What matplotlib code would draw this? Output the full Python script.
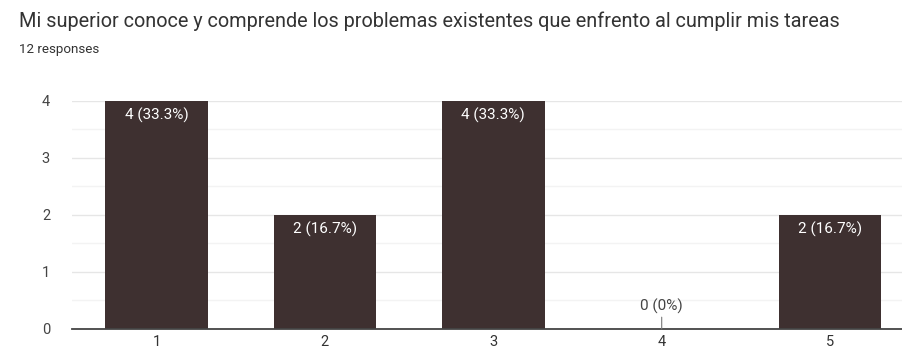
import matplotlib
matplotlib.use("Agg")
import matplotlib.pyplot as plt

categories = ["1", "2", "3", "4", "5"]
counts = [4, 2, 4, 0, 2]
total = 12
title = "Mi superior conoce y comprende los problemas existentes que enfrento al cumplir mis tareas"
subtitle = "12 responses"

plt.rcParams['font.family'] = ['Roboto', 'DejaVu Sans']

W, H = 903, 351
fig = plt.figure(figsize=(W / 100, H / 100), dpi=100)
fig.patch.set_facecolor("white")

left_px, right_px, top_px, bottom_px = 72.3, 914.3, 100.5, 329
ax = fig.add_axes([left_px / W, (H - bottom_px) / H,
                   (right_px - left_px) / W, (bottom_px - top_px) / H])

x = list(range(len(categories)))
bar_color = "#3e3030"
ax.bar(x, counts, width=0.61, color=bar_color, zorder=3)
ax.set_xlim(-0.5, len(categories) - 0.5)
ax.set_ylim(0, 4)

ax.set_yticks([0, 1, 2, 3, 4])
ax.set_yticks([0.5, 1.5, 2.5, 3.5], minor=True)
ax.grid(axis='y', which='major', color="#e6e6e6", linewidth=1, zorder=0)
ax.grid(axis='y', which='minor', color="#f3f3f3", linewidth=1, zorder=0)
ax.tick_params(axis='y', which='both', length=0, labelsize=10.5, labelcolor="#444444", pad=16)
ax.set_xticks(x)
ax.set_xticklabels(categories)
ax.tick_params(axis='x', length=0, labelsize=10.5, labelcolor="#333333", pad=4)

for s in ["top", "right", "left"]:
    ax.spines[s].set_visible(False)
ax.spines["bottom"].set_color("#444444")
ax.spines["bottom"].set_linewidth(1.3)
ax.spines["bottom"].set_zorder(4)

for xi, c in zip(x, counts):
    pct = c / total * 100
    label = f"{c} ({pct:.1f}%)" if c else f"{c} (0%)"
    if c > 0:
        ax.annotate(label, (xi, c), xytext=(0, -5), textcoords="offset points",
                    ha="center", va="top", color="white", fontsize=11, zorder=5)
    else:
        ax.annotate(label, (xi, 0), xytext=(0, 10.5), textcoords="offset points",
                    ha="center", va="bottom", color="#444444", fontsize=11, zorder=5,
                    arrowprops=dict(arrowstyle="-", color="#777777", lw=0.8,
                                    shrinkA=0, shrinkB=0))

fig.text(19 / W, 1 - 21 / H, title, fontsize=14.3, color="#333333", va="center", ha="left")
fig.text(19 / W, 1 - 50 / H, subtitle, fontsize=9.6, color="#333333", va="center", ha="left")

fig.savefig("out.png", dpi=100, facecolor="white")
